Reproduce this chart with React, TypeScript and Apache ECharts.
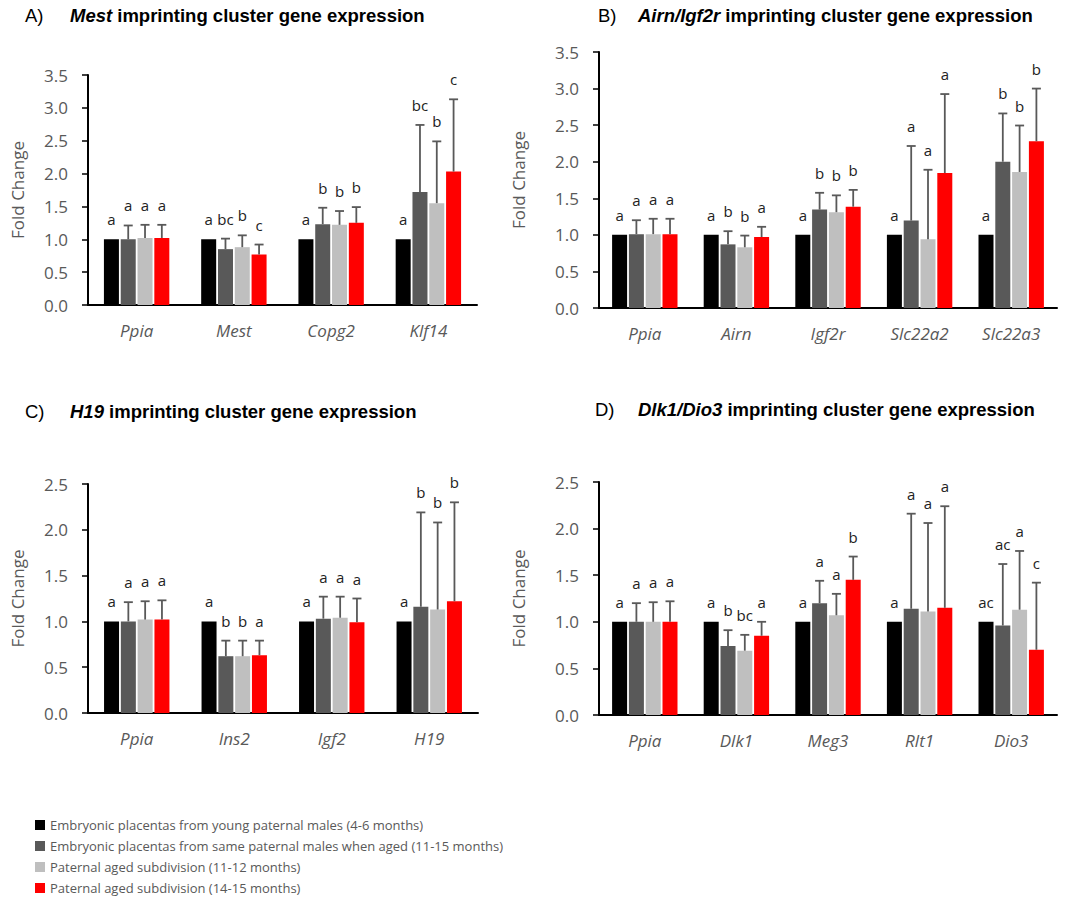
import React, { useEffect, useRef } from "react";
import * as echarts from "echarts";

const SERIES_NAMES = [
  "Embryonic placentas from young paternal males (4-6 months)",
  "Embryonic placentas from same paternal males when aged (11-15 months)",
  "Paternal aged subdivision (11-12 months)",
  "Paternal aged subdivision (14-15 months)",
];
const COLORS = ["#000000", "#595959", "#BFBFBF", "#FF0000"];

// Panel A: Mest
const aGenes = ["Ppia", "Mest", "Copg2", "Klf14"];
const aYoung = [1.0, 1.0, 1.0, 1.0];
const aAged = [1.0, 0.85, 1.23, 1.72];
const aSub1112 = [1.02, 0.88, 1.22, 1.55];
const aSub1415 = [1.02, 0.77, 1.25, 2.03];
const aAgedErr = [0.21, 0.16, 0.25, 1.02];
const aSub1112Err = [0.2, 0.18, 0.21, 0.94];
const aSub1415Err = [0.2, 0.15, 0.24, 1.1];
const aYoungLet = ["a", "a", "a", "a"];
const aAgedLet = ["a", "bc", "b", "bc"];
const aSub1112Let = ["a", "b", "b", "b"];
const aSub1415Let = ["a", "c", "b", "c"];

// Panel B: Airn/Igf2r
const bGenes = ["Ppia", "Airn", "Igf2r", "Slc22a2", "Slc22a3"];
const bYoung = [1.0, 1.0, 1.0, 1.0, 1.0];
const bAged = [1.01, 0.87, 1.345, 1.195, 2.0];
const bSub1112 = [1.01, 0.83, 1.31, 0.94, 1.86];
const bSub1415 = [1.01, 0.97, 1.385, 1.845, 2.28];
const bAgedErr = [0.19, 0.18, 0.23, 1.02, 0.66];
const bSub1112Err = [0.21, 0.16, 0.23, 0.95, 0.635];
const bSub1415Err = [0.21, 0.14, 0.23, 1.08, 0.72];
const bYoungLet = ["a", "a", "a", "a", "a"];
const bAgedLet = ["a", "b", "b", "a", "b"];
const bSub1112Let = ["a", "b", "b", "a", "b"];
const bSub1415Let = ["a", "a", "b", "a", "b"];

// Panel C: H19
const cGenes = ["Ppia", "Ins2", "Igf2", "H19"];
const cYoung = [1.0, 1.0, 1.0, 1.0];
const cAged = [1.0, 0.62, 1.03, 1.16];
const cSub1112 = [1.02, 0.62, 1.04, 1.13];
const cSub1415 = [1.02, 0.63, 0.99, 1.22];
const cAgedErr = [0.21, 0.17, 0.24, 1.03];
const cSub1112Err = [0.2, 0.17, 0.23, 0.95];
const cSub1415Err = [0.21, 0.16, 0.26, 1.08];
const cYoungLet = ["a", "a", "a", "a"];
const cAgedLet = ["a", "b", "a", "b"];
const cSub1112Let = ["a", "b", "a", "b"];
const cSub1415Let = ["a", "a", "a", "b"];

// Panel D: Dlk1/Dio3
const dGenes = ["Ppia", "Dlk1", "Meg3", "Rlt1", "Dio3"];
const dYoung = [1.0, 1.0, 1.0, 1.0, 1.0];
const dAged = [1.0, 0.74, 1.2, 1.14, 0.96];
const dSub1112 = [1.0, 0.69, 1.07, 1.11, 1.13];
const dSub1415 = [1.0, 0.85, 1.45, 1.15, 0.7];
const dAgedErr = [0.2, 0.17, 0.24, 1.02, 0.66];
const dSub1112Err = [0.21, 0.17, 0.23, 0.95, 0.63];
const dSub1415Err = [0.22, 0.15, 0.25, 1.09, 0.72];
const dYoungLet = ["a", "a", "a", "a", "ac"];
const dAgedLet = ["a", "b", "a", "a", "ac"];
const dSub1112Let = ["a", "bc", "a", "a", "a"];
const dSub1415Let = ["a", "a", "b", "a", "c"];

const yMaxA = 3.5;
const yMaxC = 2.5;

const BAR_W = 15;
const BAR_GAP = 0.12;
const STEP = BAR_W * (1 + BAR_GAP);
const FONT = "Open Sans";
const GRAY = "#595959";
const TITLE_SIZE = 18.5;

type Panel = {
  genes: string[];
  vals: number[][];
  errs: number[][];
  lets: string[][];
  grid: { left: number; top: number; width: number; height: number };
  max: number;
  nameGap: number;
};

const panels: Panel[] = [
  {
    genes: aGenes,
    vals: [aYoung, aAged, aSub1112, aSub1415],
    errs: [aYoung.map(() => 0), aAgedErr, aSub1112Err, aSub1415Err],
    lets: [aYoungLet, aAgedLet, aSub1112Let, aSub1415Let],
    grid: { left: 88, top: 75, width: 389, height: 230 },
    max: yMaxA,
    nameGap: 62,
  },
  {
    genes: bGenes,
    vals: [bYoung, bAged, bSub1112, bSub1415],
    errs: [bYoung.map(() => 0), bAgedErr, bSub1112Err, bSub1415Err],
    lets: [bYoungLet, bAgedLet, bSub1112Let, bSub1415Let],
    grid: { left: 599, top: 52, width: 458, height: 256 },
    max: yMaxA,
    nameGap: 72,
  },
  {
    genes: cGenes,
    vals: [cYoung, cAged, cSub1112, cSub1415],
    errs: [cYoung.map(() => 0), cAgedErr, cSub1112Err, cSub1415Err],
    lets: [cYoungLet, cAgedLet, cSub1112Let, cSub1415Let],
    grid: { left: 88, top: 484, width: 390, height: 229 },
    max: yMaxC,
    nameGap: 62,
  },
  {
    genes: dGenes,
    vals: [dYoung, dAged, dSub1112, dSub1415],
    errs: [dYoung.map(() => 0), dAgedErr, dSub1112Err, dSub1415Err],
    lets: [dYoungLet, dAgedLet, dSub1112Let, dSub1415Let],
    grid: { left: 599, top: 482, width: 458, height: 233 },
    max: yMaxC,
    nameGap: 72,
  },
];

const titles = [
  { tag: "A)", gene: "Mest", rest: " imprinting cluster gene expression", tx: 25, x: 70, y: 15 },
  { tag: "B)", gene: "Airn/Igf2r", rest: " imprinting cluster gene expression", tx: 598, x: 638, y: 15 },
  { tag: "C)", gene: "H19", rest: " imprinting cluster gene expression", tx: 25, x: 70, y: 411 },
  { tag: "D)", gene: "Dlk1/Dio3", rest: " imprinting cluster gene expression", tx: 595, x: 638, y: 409 },
];

function buildOption() {
  const grid: any[] = [];
  const xAxis: any[] = [];
  const yAxis: any[] = [];
  const series: any[] = [];
  panels.forEach((p, k) => {
    grid.push({ ...p.grid, containLabel: false });
    xAxis.push({
      type: "category",
      gridIndex: k,
      data: p.genes,
      axisLine: { show: true, lineStyle: { color: "#000", width: 2 } },
      axisTick: { show: false },
      axisLabel: { color: GRAY, fontSize: 17, fontStyle: "italic", fontFamily: FONT, margin: 17 },
      splitLine: { show: false },
    });
    yAxis.push({
      type: "value",
      gridIndex: k,
      min: 0,
      max: p.max,
      interval: 0.5,
      name: "Fold Change",
      nameLocation: "middle",
      nameGap: p.nameGap,
      nameRotate: 90,
      nameTextStyle: { color: GRAY, fontSize: 17, fontFamily: FONT },
      axisLine: { show: true, lineStyle: { color: "#000", width: 2 } },
      axisTick: { show: true, length: 6, lineStyle: { color: "#000", width: 1.5 } },
      axisLabel: {
        color: GRAY,
        fontSize: 17,
        fontFamily: FONT,
        margin: 20,
        formatter: (v: number) => v.toFixed(1),
      },
      splitLine: { show: false },
    });
    p.vals.forEach((vals, s) => {
      series.push({
        type: "bar",
        name: SERIES_NAMES[s],
        xAxisIndex: k,
        yAxisIndex: k,
        data: vals,
        barWidth: BAR_W,
        barGap: BAR_GAP * 100 + "%",
        itemStyle: { color: COLORS[s] },
        silent: true,
      });
    });
    const items: number[][] = [];
    const letters: string[] = [];
    p.vals.forEach((vals, s) => {
      vals.forEach((v, c) => {
        items.push([c, s, v, p.errs[s][c]]);
        letters.push(p.lets[s][c]);
      });
    });
    series.push({
      type: "custom",
      xAxisIndex: k,
      yAxisIndex: k,
      data: items,
      z: 10,
      silent: true,
      encode: { x: 0, y: 2 },
      renderItem: (params: any, api: any) => {
        const c = api.value(0);
        const s = api.value(1);
        const v = api.value(2);
        const e = api.value(3);
        const p0 = api.coord([c, v]);
        const p1 = api.coord([c, v + e]);
        const x = p0[0] + (s - 1.5) * STEP;
        const children: any[] = [];
        if (e > 0) {
          children.push({
            type: "line",
            shape: { x1: x, y1: p0[1], x2: x, y2: p1[1] },
            style: { stroke: GRAY, lineWidth: 1.8 },
          });
          children.push({
            type: "line",
            shape: { x1: x - 4.5, y1: p1[1], x2: x + 4.5, y2: p1[1] },
            style: { stroke: GRAY, lineWidth: 1.8 },
          });
        }
        children.push({
          type: "text",
          x: x,
          y: p1[1] - 20,
          style: {
            text: letters[params.dataIndex],
            align: "center",
            verticalAlign: "middle",
            fontSize: 15,
            fontFamily: FONT,
            fill: "#222222",
          },
        });
        return { type: "group", children };
      },
    });
  });

  const graphic: any[] = [];
  titles.forEach((t) => {
    graphic.push({
      type: "text",
      x: t.tx,
      y: t.y,
      style: {
        text: t.tag,
        fontSize: TITLE_SIZE,
        fontFamily: "Liberation Sans",
        fill: "#000",
        verticalAlign: "middle",
      },
    });
    graphic.push({
      type: "text",
      x: t.x,
      y: t.y,
      style: {
        text: "{i|" + t.gene + "}{n|" + t.rest + "}",
        fontSize: TITLE_SIZE,
        fontWeight: "bold",
        fontFamily: "Liberation Sans",
        fill: "#000",
        verticalAlign: "middle",
        rich: {
          i: { fontStyle: "italic", fontWeight: "bold", fontSize: TITLE_SIZE, fontFamily: "Liberation Sans", fill: "#000" },
          n: { fontWeight: "bold", fontSize: TITLE_SIZE, fontFamily: "Liberation Sans", fill: "#000" },
        },
      },
    });
  });

  return {
    animation: false,
    backgroundColor: "#ffffff",
    grid,
    xAxis,
    yAxis,
    series,
    graphic,
    legend: {
      data: SERIES_NAMES.map((n, i) => ({ name: n, itemStyle: { color: COLORS[i] } })),
      orient: "vertical",
      left: 35,
      top: 818,
      padding: 0,
      itemWidth: 10,
      itemHeight: 10,
      itemGap: 7,
      icon: "rect",
      selectedMode: false,
      textStyle: { color: GRAY, fontSize: 13, fontFamily: FONT, lineHeight: 14 },
    },
  };
}

export default function App() {
  const ref = useRef<HTMLDivElement>(null);
  useEffect(() => {
    if (!ref.current) return;
    const chart = echarts.init(ref.current, undefined, { renderer: "svg" });
    chart.setOption(buildOption() as any);
    return () => chart.dispose();
  }, []);
  return (
    <div
      ref={ref}
      style={{ position: "absolute", left: 0, top: 0, width: 1071, height: 905, background: "#fff" }}
    />
  );
}
